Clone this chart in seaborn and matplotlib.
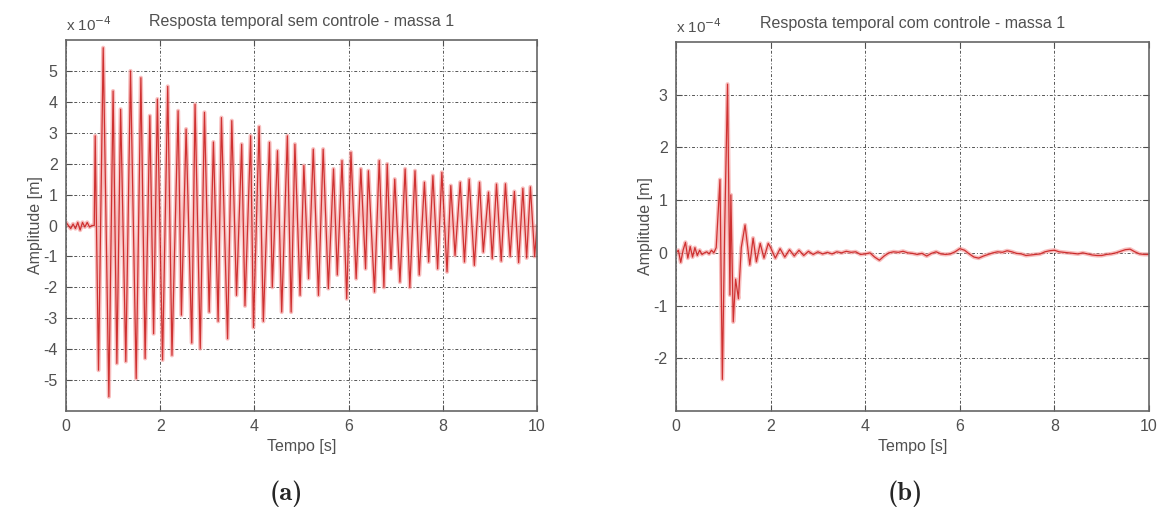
import os
import numpy as np
import pandas as pd
import matplotlib
matplotlib.use("Agg")
import matplotlib.pyplot as plt
from matplotlib.font_manager import FontProperties
import seaborn as sns

# ---------------- data (amplitudes in units of 1e-4 m) ----------------
# (a) free response: early noise, then alternating extrema
noise_a_t = [0.0, 0.05, 0.10, 0.15, 0.20, 0.25, 0.30, 0.35, 0.40, 0.45, 0.50, 0.55, 0.60]
noise_a_y = [0.10, 0.00, -0.10, 0.05, -0.10, 0.10, -0.15, 0.10, -0.05, 0.10, -0.05, 0.00, 0.00]

max_a_t = [0.62, 0.79, 1.00, 1.16, 1.37, 1.59, 1.78, 1.94, 2.16, 2.38, 2.55, 2.74, 2.94,
           3.13, 3.30, 3.52, 3.73, 3.92, 4.10, 4.32, 4.49, 4.70, 4.86, 5.05, 5.25, 5.46,
           5.68, 5.86, 6.05, 6.26, 6.42, 6.65, 6.82, 6.98, 7.20, 7.41, 7.61, 7.79, 7.98,
           8.17, 8.37, 8.56, 8.78, 8.97, 9.14, 9.33, 9.52, 9.70, 9.86]
max_a_y = [2.90, 5.75, 4.35, 3.76, 5.00, 4.78, 3.55, 4.09, 4.50, 3.71, 3.12, 3.92, 3.66,
           2.70, 3.49, 3.39, 2.63, 2.90, 3.20, 2.69, 2.42, 2.90, 2.63, 1.94, 2.47, 2.47,
           1.83, 2.10, 2.37, 1.83, 1.77, 2.10, 1.99, 1.50, 1.83, 1.77, 1.40, 1.61, 1.72,
           1.29, 1.40, 1.50, 1.40, 1.08, 1.34, 1.35, 1.10, 1.20, 1.25]
min_a_t = [0.69, 0.91, 1.08, 1.27, 1.49, 1.68, 1.86, 2.05, 2.25, 2.45, 2.67, 2.85, 3.04,
           3.23, 3.43, 3.62, 3.80, 3.98, 4.19, 4.38, 4.58, 4.78, 4.97, 5.15, 5.36, 5.57,
           5.76, 5.96, 6.16, 6.36, 6.55, 6.75, 6.90, 7.09, 7.30, 7.50, 7.70, 7.89, 8.09,
           8.26, 8.46, 8.67, 8.86, 9.05, 9.24, 9.43, 9.61, 9.78, 9.95]
min_a_y = [-4.68, -5.54, -4.46, -4.40, -4.95, -4.30, -3.50, -4.35, -4.20, -2.90, -3.80, -3.98, -2.80,
           -3.10, -3.66, -2.26, -2.60, -3.30, -3.10, -2.00, -2.80, -2.80, -2.26, -1.72, -2.26, -2.04,
           -1.60, -2.37, -1.72, -1.40, -2.15, -2.00, -1.40, -1.83, -2.00, -1.60, -1.18, -1.40, -1.50,
           -0.97, -1.18, -1.29, -0.86, -1.07, -1.15, -1.00, -1.20, -1.05, -1.00]
end_a_t = [10.0]
end_a_y = [0.0]

# (b) controlled response
t_b = [0.00, 0.05, 0.10, 0.15, 0.20, 0.25, 0.30, 0.35, 0.40, 0.45, 0.50, 0.55, 0.60, 0.65,
       0.70, 0.75, 0.80, 0.85, 0.93, 0.98, 1.03, 1.09, 1.14, 1.16, 1.21, 1.26, 1.32, 1.38,
       1.46, 1.56, 1.63, 1.70, 1.78, 1.86, 1.95,
       2.0, 2.1, 2.2, 2.3, 2.4, 2.5, 2.6, 2.7, 2.8, 2.9, 3.0, 3.1, 3.2, 3.3, 3.4, 3.5, 3.6,
       3.7, 3.8, 3.9, 4.0, 4.1, 4.2, 4.3, 4.4, 4.5, 4.6, 4.7, 4.8, 4.9, 5.0, 5.1, 5.2, 5.3,
       5.4, 5.5, 5.6, 5.7, 5.8, 5.9, 6.0, 6.1, 6.2, 6.3, 6.4, 6.5, 6.6, 6.7, 6.8, 6.9, 7.0,
       7.1, 7.2, 7.3, 7.4, 7.5, 7.6, 7.7, 7.8, 7.9, 8.0, 8.1, 8.2, 8.3, 8.4, 8.5, 8.6, 8.7,
       8.8, 8.9, 9.0, 9.1, 9.2, 9.3, 9.4, 9.5, 9.6, 9.7, 9.8, 9.9, 10.0]
y_b = [0.00, 0.05, -0.18, 0.05, 0.20, -0.10, 0.12, -0.08, 0.10, -0.05, 0.05, -0.03, 0.00, 0.02,
       -0.02, 0.05, 0.00, 0.10, 1.39, -2.40, 0.50, 3.20, -0.80, 1.10, -1.31, -0.50, -0.87, 0.10,
       0.53, -0.23, 0.28, -0.17, 0.18, -0.10, 0.18,
       0.10, -0.10, 0.08, -0.08, 0.06, -0.06, 0.05, -0.05, 0.03, -0.03, 0.02, -0.02, 0.01, -0.02,
       0.02, 0.00, 0.03, 0.01, 0.02, -0.03, -0.02, 0.00, -0.08, -0.14, -0.06, 0.00, 0.02, 0.01,
       0.03, 0.00, -0.01, -0.03, -0.01, -0.06, -0.01, 0.02, -0.02, -0.03, -0.02, 0.02, 0.08, 0.05,
       -0.02, -0.08, -0.10, -0.06, -0.03, 0.00, 0.02, 0.01, 0.04, 0.02, -0.01, -0.02, -0.05, -0.04,
       -0.03, -0.02, 0.02, 0.04, 0.05, 0.02, 0.01, 0.00, -0.01, -0.02, 0.00, -0.02, -0.04, -0.05,
       -0.05, -0.03, -0.02, 0.00, 0.03, 0.06, 0.07, 0.02, -0.02, -0.03, -0.03]

titles = ["Resposta temporal sem controle - massa 1", "Resposta temporal com controle - massa 1"]
xlabel = "Tempo [s]"
ylabel = "Amplitude [m]"
xticks = [0, 2, 4, 6, 8, 10]
yticks_a = [-5, -4, -3, -2, -1, 0, 1, 2, 3, 4, 5]
yticks_b = [-2, -1, 0, 1, 2, 3]
panel_labels = ["(a)", "(b)"]

# ---------------- build frames ----------------
ta = noise_a_t + max_a_t + min_a_t + end_a_t
ya = noise_a_y + max_a_y + min_a_y + end_a_y
df_a = pd.DataFrame({"t": ta, "y": ya}).sort_values("t").reset_index(drop=True)
df_b = pd.DataFrame({"t": t_b, "y": y_b})

sns.set_style("white")
plt.rcParams["font.family"] = ["Liberation Sans", "DejaVu Sans"]
plt.rcParams["axes.unicode_minus"] = False

cmb = os.path.join(matplotlib.get_data_path(), "fonts", "ttf", "cmb10.ttf")
lab_font = FontProperties(fname=cmb, size=19) if os.path.exists(cmb) else \
    FontProperties(family="DejaVu Serif", weight="bold", size=18)

fig = plt.figure(figsize=(11.58, 5.08), dpi=100)
ax_a = fig.add_axes([66 / 1158, 1 - 411 / 508, 471 / 1158, 371 / 508])
ax_b = fig.add_axes([676 / 1158, 1 - 411 / 508, 473 / 1158, 369 / 508])

txt_col = "#505050"
for ax, df, ylim, yt, title, lab, lx in [
    (ax_a, df_a, (-6, 6), yticks_a, titles[0], panel_labels[0], 286 / 1158),
    (ax_b, df_b, (-3, 4), yticks_b, titles[1], panel_labels[1], 905 / 1158),
]:
    ax.grid(True, color="#555555", linestyle=(0, (3, 2, 1, 2)), linewidth=0.7)
    ax.set_axisbelow(True)
    # soft halo (the reference is a blurred raster) and the crisp trace
    sns.lineplot(data=df, x="t", y="y", ax=ax, color="#f5a3a3", linewidth=3.0,
                 alpha=0.7, sort=False, estimator=None)
    sns.lineplot(data=df, x="t", y="y", ax=ax, color="#c81818", linewidth=0.9,
                 alpha=0.85, sort=False, estimator=None)
    ax.set_xlim(0, 10)
    ax.set_ylim(*ylim)
    ax.set_xticks(xticks)
    ax.set_yticks(yt)
    ax.tick_params(direction="in", length=4, labelsize=11.5, colors=txt_col, pad=6,
                   top=True, right=True, bottom=True, left=True)
    for s in ax.spines.values():
        s.set_color("#666666")
        s.set_linewidth(1.2)
    ax.set_xlabel(xlabel, fontsize=11.5, color=txt_col, labelpad=3)
    ax.set_ylabel(ylabel, fontsize=11.5, color=txt_col, labelpad=0)
    ax.set_title(title, fontsize=11.5, color=txt_col, pad=10)
    ax.text(0.0, 1.015, r"x 10$^{-4}$", transform=ax.transAxes, fontsize=11,
            color=txt_col, ha="left", va="bottom")
    fig.text(lx, 0.028, lab, fontproperties=lab_font, ha="center", va="center")

fig.savefig("out.png", dpi=100, facecolor="white")
